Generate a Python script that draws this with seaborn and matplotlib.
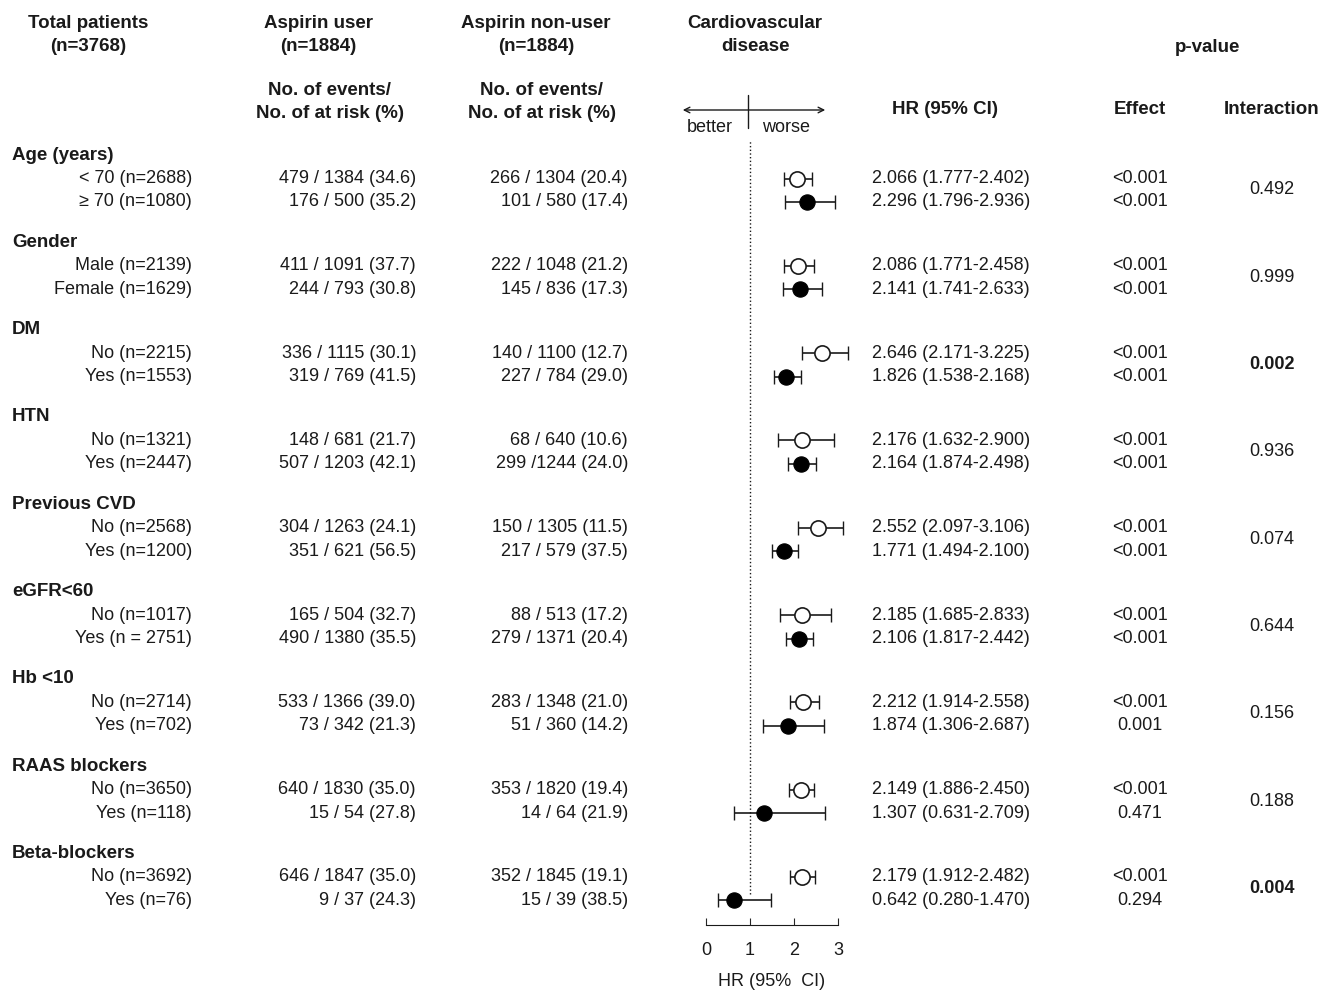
import matplotlib
matplotlib.use("Agg")
import matplotlib.pyplot as plt
import seaborn as sns
import pandas as pd

sns.set_style("white")
plt.rcParams['font.family'] = ['Liberation Sans', 'DejaVu Sans']

groups = ["Age (years)", "Gender", "DM", "HTN", "Previous CVD", "eGFR<60", "Hb <10",
          "RAAS blockers", "Beta-blockers"]
sub_labels = [["< 70 (n=2688)", "≥ 70 (n=1080)"], ["Male (n=2139)", "Female (n=1629)"],
              ["No (n=2215)", "Yes (n=1553)"], ["No (n=1321)", "Yes (n=2447)"],
              ["No (n=2568)", "Yes (n=1200)"], ["No (n=1017)", "Yes (n = 2751)"],
              ["No (n=2714)", "Yes (n=702)"], ["No (n=3650)", "Yes (n=118)"],
              ["No (n=3692)", "Yes (n=76)"]]
aspirin = ["479 / 1384 (34.6)", "176 / 500 (35.2)", "411 / 1091 (37.7)", "244 / 793 (30.8)",
           "336 / 1115 (30.1)", "319 / 769 (41.5)", "148 / 681 (21.7)", "507 / 1203 (42.1)",
           "304 / 1263 (24.1)", "351 / 621 (56.5)", "165 / 504 (32.7)", "490 / 1380 (35.5)",
           "533 / 1366 (39.0)", "73 / 342 (21.3)", "640 / 1830 (35.0)", "15 / 54 (27.8)",
           "646 / 1847 (35.0)", "9 / 37 (24.3)"]
nonuser = ["266 / 1304 (20.4)", "101 / 580 (17.4)", "222 / 1048 (21.2)", "145 / 836 (17.3)",
           "140 / 1100 (12.7)", "227 / 784 (29.0)", "68 / 640 (10.6)", "299 /1244 (24.0)",
           "150 / 1305 (11.5)", "217 / 579 (37.5)", "88 / 513 (17.2)", "279 / 1371 (20.4)",
           "283 / 1348 (21.0)", "51 / 360 (14.2)", "353 / 1820 (19.4)", "14 / 64 (21.9)",
           "352 / 1845 (19.1)", "15 / 39 (38.5)"]
hr = [2.066, 2.296, 2.086, 2.141, 2.646, 1.826, 2.176, 2.164, 2.552, 1.771,
      2.185, 2.106, 2.212, 1.874, 2.149, 1.307, 2.179, 0.642]
lo = [1.777, 1.796, 1.771, 1.741, 2.171, 1.538, 1.632, 1.874, 2.097, 1.494,
      1.685, 1.817, 1.914, 1.306, 1.886, 0.631, 1.912, 0.280]
hi = [2.402, 2.936, 2.458, 2.633, 3.225, 2.168, 2.900, 2.498, 3.106, 2.100,
      2.833, 2.442, 2.558, 2.687, 2.450, 2.709, 2.482, 1.470]
p_effect = ["<0.001", "<0.001", "<0.001", "<0.001", "<0.001", "<0.001", "<0.001", "<0.001",
            "<0.001", "<0.001", "<0.001", "<0.001", "<0.001", "0.001", "<0.001", "0.471",
            "<0.001", "0.294"]
p_inter = ["0.492", "0.999", "0.002", "0.936", "0.074", "0.644", "0.156", "0.188", "0.004"]
bold_inter = ["0.002", "0.004"]

W, H = 1337, 994
fig = plt.figure(figsize=(W / 100, H / 100), dpi=100)
bg = fig.add_axes([0, 0, 1, 1])
bg.set_xlim(0, W)
bg.set_ylim(H, 0)
bg.axis("off")

FS = 13
INK = "#1a1a1a"
# headers
hdr = dict(fontsize=13.5, fontweight="bold", ha="center", va="center", color=INK,
           linespacing=1.45)
bg.text(88, 35, "Total patients\n(n=3768)", **hdr)
bg.text(318, 35, "Aspirin user\n(n=1884)", **hdr)
bg.text(536, 35, "Aspirin non-user\n(n=1884)", **hdr)
bg.text(755, 35, "Cardiovascular\ndisease", **hdr)
bg.text(1208, 48, "p-value", **hdr)
bg.text(330, 102, "No. of events/\nNo. of at risk (%)", **hdr)
bg.text(542, 102, "No. of events/\nNo. of at risk (%)", **hdr)
bg.text(945, 110, "HR (95% CI)", **hdr)
bg.text(1140, 110, "Effect", **hdr)
bg.text(1272, 110, "Interaction", **hdr)
bg.annotate("", xy=(680, 110), xytext=(828, 110),
            arrowprops=dict(arrowstyle="<->", lw=1, color=INK))
bg.plot([748, 748], [95, 128], color=INK, lw=1)
bg.text(710, 127, "better", fontsize=FS, ha="center", va="center", color=INK)
bg.text(786, 127, "worse", fontsize=FS, ha="center", va="center", color=INK)

rows = []
for g, name in enumerate(groups):
    gy = 155 + g * 87.3
    bg.text(12, gy, name, fontsize=13.5, fontweight="bold", va="center", color=INK)
    for k in range(2):
        i = 2 * g + k
        y = gy + 23.5 * (k + 1)
        rows.append(dict(y=y, hr=hr[i], lo=lo[i], hi=hi[i], filled=k == 1))
        t = dict(fontsize=FS, va="center", color=INK)
        bg.text(192, y, sub_labels[g][k], ha="right", **t)
        bg.text(416, y, aspirin[i], ha="right", **t)
        bg.text(628, y, nonuser[i], ha="right", **t)
        bg.text(872, y, f"{hr[i]:.3f} ({lo[i]:.3f}-{hi[i]:.3f})", ha="left", **t)
        bg.text(1140, y, p_effect[i], ha="center", **t)
    bg.text(1272, gy + 35, p_inter[g], fontsize=FS, ha="center", va="center", color=INK,
            fontweight="bold" if p_inter[g] in bold_inter else "normal")

df = pd.DataFrame(rows)

# forest axes: x 0..3 maps to pixels 706..838, y in pixel coords
top, bot = 140, 925
ax = fig.add_axes([706 / W, 1 - bot / H, 132 / W, (bot - top) / H])
ax.set_xlim(0, 3)
ax.set_ylim(bot, top)
ax.patch.set_alpha(0)
for s in ["top", "right", "left"]:
    ax.spines[s].set_visible(False)
ax.spines["bottom"].set_color(INK)

for _, r in df.iterrows():
    ax.errorbar(r.hr, r.y, xerr=[[r.hr - r.lo], [r.hi - r.hr]], fmt="none",
                ecolor=INK, elinewidth=1.2, capsize=5, clip_on=False)
sns.scatterplot(data=df[~df.filled], x="hr", y="y", ax=ax, s=120, facecolor="white",
                edgecolor=INK, linewidth=1.2, clip_on=False, zorder=3)
sns.scatterplot(data=df[df.filled], x="hr", y="y", ax=ax, s=120, color="black",
                edgecolor="black", clip_on=False, zorder=3)
ax.axvline(1, ymin=0.04, ymax=1, color=INK, ls=":", lw=1)
ax.set_xticks([0, 1, 2, 3])
ax.tick_params(axis="x", direction="in", length=5, labelsize=FS, pad=12, bottom=True,
               labelcolor=INK)
ax.set_xlabel("HR (95%  CI)", fontsize=FS, labelpad=10, color=INK)
ax.set_ylabel("")
ax.set_yticks([])

fig.savefig("out.png", dpi=100, facecolor="white")
